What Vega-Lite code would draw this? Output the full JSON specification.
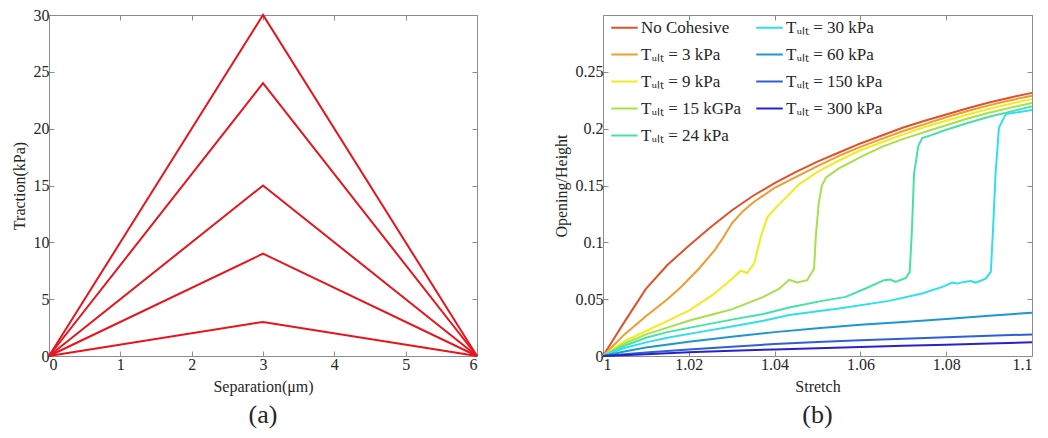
{
  "$schema": "https://vega.github.io/schema/vega-lite/v6.json",
  "background": "white",
  "padding": {"left": 10, "top": 6, "right": 5, "bottom": 0},
  "spacing": 70,
  "config": {
    "font": "Liberation Serif",
    "view": {"stroke": "#8c8c8c", "strokeWidth": 1},
    "axis": {
      "domain": false,
      "grid": false,
      "tickColor": "#8c8c8c",
      "tickSize": -5,
      "labelFont": "Liberation Serif",
      "labelFontSize": 16,
      "labelColor": "#262626",
      "labelPadding": 5,
      "titleFont": "Liberation Serif",
      "titleFontSize": 16,
      "titleFontWeight": "normal",
      "titleColor": "#262626",
      "titlePadding": 6
    },
    "legend": {"labelFont": "Liberation Serif"},
    "title": {"font": "Liberation Serif", "fontSize": 26, "fontWeight": "normal", "color": "#262626"}
  },
  "hconcat": [
    {
      "width": 428,
      "height": 341,
      "title": {"text": "(a)", "orient": "bottom", "anchor": "middle", "offset": 8},
      "data": {
        "values": [
          {"separation": 0, "traction": 0, "peak": 3},
          {"separation": 3, "traction": 3, "peak": 3},
          {"separation": 6, "traction": 0, "peak": 3},
          {"separation": 0, "traction": 0, "peak": 9},
          {"separation": 3, "traction": 9, "peak": 9},
          {"separation": 6, "traction": 0, "peak": 9},
          {"separation": 0, "traction": 0, "peak": 15},
          {"separation": 3, "traction": 15, "peak": 15},
          {"separation": 6, "traction": 0, "peak": 15},
          {"separation": 0, "traction": 0, "peak": 24},
          {"separation": 3, "traction": 24, "peak": 24},
          {"separation": 6, "traction": 0, "peak": 24},
          {"separation": 0, "traction": 0, "peak": 30},
          {"separation": 3, "traction": 30, "peak": 30},
          {"separation": 6, "traction": 0, "peak": 30}
        ]
      },
      "layer": [
        {
          "mark": {"type": "line", "color": "#e8141c", "strokeWidth": 2},
          "encoding": {
            "x": {"field": "separation", "type": "quantitative", "scale": {"domain": [0, 6], "nice": false},
                  "axis": {"title": "Separation(μm)", "values": [0, 1, 2, 3, 4, 5, 6], "labelFont": "Liberation Serif"}},
            "y": {"field": "traction", "type": "quantitative", "scale": {"domain": [0, 30], "nice": false},
                  "axis": {"title": "Traction(kPa)", "values": [0, 5, 10, 15, 20, 25, 30], "labelFont": "Liberation Serif"}},
            "detail": {"field": "peak", "type": "nominal"}
          }
        },
        {
          "mark": {"type": "line", "opacity": 0},
          "encoding": {
            "x": {"field": "separation", "type": "quantitative",
                  "axis": {"orient": "top", "title": null, "labels": false, "values": [0, 1, 2, 3, 4, 5, 6]}},
            "y": {"field": "traction", "type": "quantitative",
                  "axis": {"orient": "right", "title": null, "labels": false, "values": [0, 5, 10, 15, 20, 25, 30]}},
            "detail": {"field": "peak", "type": "nominal"}
          }
        }
      ],
      "resolve": {"axis": {"x": "independent", "y": "independent"}}
    },
    {
      "width": 429,
      "height": 341,
      "title": {"text": "(b)", "orient": "bottom", "anchor": "middle", "offset": 8},
      "data": {
        "values": [
          {"series": "No Cohesive", "stretch": 1.0, "opening": 0.0},
          {"series": "No Cohesive", "stretch": 1.005, "opening": 0.03},
          {"series": "No Cohesive", "stretch": 1.01, "opening": 0.059},
          {"series": "No Cohesive", "stretch": 1.015, "opening": 0.08},
          {"series": "No Cohesive", "stretch": 1.02, "opening": 0.097},
          {"series": "No Cohesive", "stretch": 1.025, "opening": 0.113},
          {"series": "No Cohesive", "stretch": 1.03, "opening": 0.128},
          {"series": "No Cohesive", "stretch": 1.035, "opening": 0.141},
          {"series": "No Cohesive", "stretch": 1.04, "opening": 0.152},
          {"series": "No Cohesive", "stretch": 1.045, "opening": 0.162},
          {"series": "No Cohesive", "stretch": 1.05, "opening": 0.171},
          {"series": "No Cohesive", "stretch": 1.055, "opening": 0.179},
          {"series": "No Cohesive", "stretch": 1.06, "opening": 0.187},
          {"series": "No Cohesive", "stretch": 1.065, "opening": 0.194},
          {"series": "No Cohesive", "stretch": 1.07, "opening": 0.201},
          {"series": "No Cohesive", "stretch": 1.075, "opening": 0.207},
          {"series": "No Cohesive", "stretch": 1.08, "opening": 0.2125},
          {"series": "No Cohesive", "stretch": 1.085, "opening": 0.218},
          {"series": "No Cohesive", "stretch": 1.09, "opening": 0.223},
          {"series": "No Cohesive", "stretch": 1.095, "opening": 0.2275},
          {"series": "No Cohesive", "stretch": 1.1, "opening": 0.2315},

          {"series": "Tᵤₗₜ = 3 kPa", "stretch": 1.0, "opening": 0.0},
          {"series": "Tᵤₗₜ = 3 kPa", "stretch": 1.005, "opening": 0.019},
          {"series": "Tᵤₗₜ = 3 kPa", "stretch": 1.01, "opening": 0.035},
          {"series": "Tᵤₗₜ = 3 kPa", "stretch": 1.015, "opening": 0.05},
          {"series": "Tᵤₗₜ = 3 kPa", "stretch": 1.018, "opening": 0.06},
          {"series": "Tᵤₗₜ = 3 kPa", "stretch": 1.0224, "opening": 0.077},
          {"series": "Tᵤₗₜ = 3 kPa", "stretch": 1.026, "opening": 0.093},
          {"series": "Tᵤₗₜ = 3 kPa", "stretch": 1.028, "opening": 0.104},
          {"series": "Tᵤₗₜ = 3 kPa", "stretch": 1.0301, "opening": 0.117},
          {"series": "Tᵤₗₜ = 3 kPa", "stretch": 1.0325, "opening": 0.127},
          {"series": "Tᵤₗₜ = 3 kPa", "stretch": 1.035, "opening": 0.135},
          {"series": "Tᵤₗₜ = 3 kPa", "stretch": 1.04, "opening": 0.148},
          {"series": "Tᵤₗₜ = 3 kPa", "stretch": 1.0457, "opening": 0.159},
          {"series": "Tᵤₗₜ = 3 kPa", "stretch": 1.05, "opening": 0.167},
          {"series": "Tᵤₗₜ = 3 kPa", "stretch": 1.055, "opening": 0.176},
          {"series": "Tᵤₗₜ = 3 kPa", "stretch": 1.06, "opening": 0.184},
          {"series": "Tᵤₗₜ = 3 kPa", "stretch": 1.065, "opening": 0.191},
          {"series": "Tᵤₗₜ = 3 kPa", "stretch": 1.07, "opening": 0.198},
          {"series": "Tᵤₗₜ = 3 kPa", "stretch": 1.075, "opening": 0.204},
          {"series": "Tᵤₗₜ = 3 kPa", "stretch": 1.08, "opening": 0.21},
          {"series": "Tᵤₗₜ = 3 kPa", "stretch": 1.085, "opening": 0.2155},
          {"series": "Tᵤₗₜ = 3 kPa", "stretch": 1.09, "opening": 0.2205},
          {"series": "Tᵤₗₜ = 3 kPa", "stretch": 1.095, "opening": 0.225},
          {"series": "Tᵤₗₜ = 3 kPa", "stretch": 1.1, "opening": 0.229},

          {"series": "Tᵤₗₜ = 9 kPa", "stretch": 1.0, "opening": 0.0},
          {"series": "Tᵤₗₜ = 9 kPa", "stretch": 1.005, "opening": 0.013},
          {"series": "Tᵤₗₜ = 9 kPa", "stretch": 1.01, "opening": 0.022},
          {"series": "Tᵤₗₜ = 9 kPa", "stretch": 1.0146, "opening": 0.03},
          {"series": "Tᵤₗₜ = 9 kPa", "stretch": 1.02, "opening": 0.04},
          {"series": "Tᵤₗₜ = 9 kPa", "stretch": 1.0255, "opening": 0.0535},
          {"series": "Tᵤₗₜ = 9 kPa", "stretch": 1.0301, "opening": 0.068},
          {"series": "Tᵤₗₜ = 9 kPa", "stretch": 1.0321, "opening": 0.075},
          {"series": "Tᵤₗₜ = 9 kPa", "stretch": 1.0336, "opening": 0.073},
          {"series": "Tᵤₗₜ = 9 kPa", "stretch": 1.0352, "opening": 0.081},
          {"series": "Tᵤₗₜ = 9 kPa", "stretch": 1.0368, "opening": 0.105},
          {"series": "Tᵤₗₜ = 9 kPa", "stretch": 1.0383, "opening": 0.122},
          {"series": "Tᵤₗₜ = 9 kPa", "stretch": 1.0403, "opening": 0.1305},
          {"series": "Tᵤₗₜ = 9 kPa", "stretch": 1.0457, "opening": 0.151},
          {"series": "Tᵤₗₜ = 9 kPa", "stretch": 1.05, "opening": 0.162},
          {"series": "Tᵤₗₜ = 9 kPa", "stretch": 1.055, "opening": 0.172},
          {"series": "Tᵤₗₜ = 9 kPa", "stretch": 1.06, "opening": 0.181},
          {"series": "Tᵤₗₜ = 9 kPa", "stretch": 1.065, "opening": 0.188},
          {"series": "Tᵤₗₜ = 9 kPa", "stretch": 1.07, "opening": 0.195},
          {"series": "Tᵤₗₜ = 9 kPa", "stretch": 1.075, "opening": 0.2015},
          {"series": "Tᵤₗₜ = 9 kPa", "stretch": 1.08, "opening": 0.207},
          {"series": "Tᵤₗₜ = 9 kPa", "stretch": 1.085, "opening": 0.2125},
          {"series": "Tᵤₗₜ = 9 kPa", "stretch": 1.09, "opening": 0.2175},
          {"series": "Tᵤₗₜ = 9 kPa", "stretch": 1.095, "opening": 0.222},
          {"series": "Tᵤₗₜ = 9 kPa", "stretch": 1.1, "opening": 0.226},

          {"series": "Tᵤₗₜ = 15 kGPa", "stretch": 1.0, "opening": 0.0},
          {"series": "Tᵤₗₜ = 15 kGPa", "stretch": 1.005, "opening": 0.011},
          {"series": "Tᵤₗₜ = 15 kGPa", "stretch": 1.01, "opening": 0.019},
          {"series": "Tᵤₗₜ = 15 kGPa", "stretch": 1.015, "opening": 0.025},
          {"series": "Tᵤₗₜ = 15 kGPa", "stretch": 1.02, "opening": 0.031},
          {"series": "Tᵤₗₜ = 15 kGPa", "stretch": 1.025, "opening": 0.036},
          {"series": "Tᵤₗₜ = 15 kGPa", "stretch": 1.03, "opening": 0.041},
          {"series": "Tᵤₗₜ = 15 kGPa", "stretch": 1.0374, "opening": 0.052},
          {"series": "Tᵤₗₜ = 15 kGPa", "stretch": 1.041, "opening": 0.059},
          {"series": "Tᵤₗₜ = 15 kGPa", "stretch": 1.0434, "opening": 0.067},
          {"series": "Tᵤₗₜ = 15 kGPa", "stretch": 1.0453, "opening": 0.0646},
          {"series": "Tᵤₗₜ = 15 kGPa", "stretch": 1.0476, "opening": 0.0667},
          {"series": "Tᵤₗₜ = 15 kGPa", "stretch": 1.0492, "opening": 0.077},
          {"series": "Tᵤₗₜ = 15 kGPa", "stretch": 1.0496, "opening": 0.105},
          {"series": "Tᵤₗₜ = 15 kGPa", "stretch": 1.0503, "opening": 0.135},
          {"series": "Tᵤₗₜ = 15 kGPa", "stretch": 1.051, "opening": 0.15},
          {"series": "Tᵤₗₜ = 15 kGPa", "stretch": 1.052, "opening": 0.157},
          {"series": "Tᵤₗₜ = 15 kGPa", "stretch": 1.055, "opening": 0.165},
          {"series": "Tᵤₗₜ = 15 kGPa", "stretch": 1.06, "opening": 0.175},
          {"series": "Tᵤₗₜ = 15 kGPa", "stretch": 1.065, "opening": 0.184},
          {"series": "Tᵤₗₜ = 15 kGPa", "stretch": 1.07, "opening": 0.191},
          {"series": "Tᵤₗₜ = 15 kGPa", "stretch": 1.075, "opening": 0.197},
          {"series": "Tᵤₗₜ = 15 kGPa", "stretch": 1.08, "opening": 0.203},
          {"series": "Tᵤₗₜ = 15 kGPa", "stretch": 1.085, "opening": 0.209},
          {"series": "Tᵤₗₜ = 15 kGPa", "stretch": 1.09, "opening": 0.214},
          {"series": "Tᵤₗₜ = 15 kGPa", "stretch": 1.095, "opening": 0.2185},
          {"series": "Tᵤₗₜ = 15 kGPa", "stretch": 1.1, "opening": 0.2225},

          {"series": "Tᵤₗₜ = 24 kPa", "stretch": 1.0, "opening": 0.0},
          {"series": "Tᵤₗₜ = 24 kPa", "stretch": 1.005, "opening": 0.009},
          {"series": "Tᵤₗₜ = 24 kPa", "stretch": 1.01, "opening": 0.016},
          {"series": "Tᵤₗₜ = 24 kPa", "stretch": 1.015, "opening": 0.021},
          {"series": "Tᵤₗₜ = 24 kPa", "stretch": 1.0224, "opening": 0.0265},
          {"series": "Tᵤₗₜ = 24 kPa", "stretch": 1.03, "opening": 0.032},
          {"series": "Tᵤₗₜ = 24 kPa", "stretch": 1.0374, "opening": 0.037},
          {"series": "Tᵤₗₜ = 24 kPa", "stretch": 1.0434, "opening": 0.0427},
          {"series": "Tᵤₗₜ = 24 kPa", "stretch": 1.0511, "opening": 0.0485},
          {"series": "Tᵤₗₜ = 24 kPa", "stretch": 1.0566, "opening": 0.052},
          {"series": "Tᵤₗₜ = 24 kPa", "stretch": 1.0612, "opening": 0.0594},
          {"series": "Tᵤₗₜ = 24 kPa", "stretch": 1.0655, "opening": 0.0667},
          {"series": "Tᵤₗₜ = 24 kPa", "stretch": 1.067, "opening": 0.0673},
          {"series": "Tᵤₗₜ = 24 kPa", "stretch": 1.0682, "opening": 0.0652},
          {"series": "Tᵤₗₜ = 24 kPa", "stretch": 1.0706, "opening": 0.0687},
          {"series": "Tᵤₗₜ = 24 kPa", "stretch": 1.0715, "opening": 0.074},
          {"series": "Tᵤₗₜ = 24 kPa", "stretch": 1.072, "opening": 0.11},
          {"series": "Tᵤₗₜ = 24 kPa", "stretch": 1.0725, "opening": 0.16},
          {"series": "Tᵤₗₜ = 24 kPa", "stretch": 1.0735, "opening": 0.185},
          {"series": "Tᵤₗₜ = 24 kPa", "stretch": 1.0744, "opening": 0.1918},
          {"series": "Tᵤₗₜ = 24 kPa", "stretch": 1.0762, "opening": 0.1939},
          {"series": "Tᵤₗₜ = 24 kPa", "stretch": 1.08, "opening": 0.199},
          {"series": "Tᵤₗₜ = 24 kPa", "stretch": 1.085, "opening": 0.205},
          {"series": "Tᵤₗₜ = 24 kPa", "stretch": 1.09, "opening": 0.2105},
          {"series": "Tᵤₗₜ = 24 kPa", "stretch": 1.095, "opening": 0.215},
          {"series": "Tᵤₗₜ = 24 kPa", "stretch": 1.1, "opening": 0.2196},

          {"series": "Tᵤₗₜ = 30 kPa", "stretch": 1.0, "opening": 0.0},
          {"series": "Tᵤₗₜ = 30 kPa", "stretch": 1.005, "opening": 0.007},
          {"series": "Tᵤₗₜ = 30 kPa", "stretch": 1.01, "opening": 0.012},
          {"series": "Tᵤₗₜ = 30 kPa", "stretch": 1.015, "opening": 0.016},
          {"series": "Tᵤₗₜ = 30 kPa", "stretch": 1.0224, "opening": 0.021},
          {"series": "Tᵤₗₜ = 30 kPa", "stretch": 1.03, "opening": 0.026},
          {"series": "Tᵤₗₜ = 30 kPa", "stretch": 1.0374, "opening": 0.031},
          {"series": "Tᵤₗₜ = 30 kPa", "stretch": 1.0434, "opening": 0.036},
          {"series": "Tᵤₗₜ = 30 kPa", "stretch": 1.055, "opening": 0.0418},
          {"series": "Tᵤₗₜ = 30 kPa", "stretch": 1.0667, "opening": 0.0485},
          {"series": "Tᵤₗₜ = 30 kPa", "stretch": 1.0744, "opening": 0.055},
          {"series": "Tᵤₗₜ = 30 kPa", "stretch": 1.0791, "opening": 0.0608},
          {"series": "Tᵤₗₜ = 30 kPa", "stretch": 1.0814, "opening": 0.0646},
          {"series": "Tᵤₗₜ = 30 kPa", "stretch": 1.0826, "opening": 0.0637},
          {"series": "Tᵤₗₜ = 30 kPa", "stretch": 1.0841, "opening": 0.0652},
          {"series": "Tᵤₗₜ = 30 kPa", "stretch": 1.0857, "opening": 0.066},
          {"series": "Tᵤₗₜ = 30 kPa", "stretch": 1.0869, "opening": 0.0646},
          {"series": "Tᵤₗₜ = 30 kPa", "stretch": 1.0892, "opening": 0.0681},
          {"series": "Tᵤₗₜ = 30 kPa", "stretch": 1.0904, "opening": 0.074},
          {"series": "Tᵤₗₜ = 30 kPa", "stretch": 1.0909, "opening": 0.11},
          {"series": "Tᵤₗₜ = 30 kPa", "stretch": 1.0915, "opening": 0.16},
          {"series": "Tᵤₗₜ = 30 kPa", "stretch": 1.0923, "opening": 0.201},
          {"series": "Tᵤₗₜ = 30 kPa", "stretch": 1.0939, "opening": 0.2128},
          {"series": "Tᵤₗₜ = 30 kPa", "stretch": 1.0963, "opening": 0.2142},
          {"series": "Tᵤₗₜ = 30 kPa", "stretch": 1.1, "opening": 0.2164},

          {"series": "Tᵤₗₜ = 60 kPa", "stretch": 1.0, "opening": 0.0},
          {"series": "Tᵤₗₜ = 60 kPa", "stretch": 1.005, "opening": 0.004},
          {"series": "Tᵤₗₜ = 60 kPa", "stretch": 1.01, "opening": 0.0075},
          {"series": "Tᵤₗₜ = 60 kPa", "stretch": 1.02, "opening": 0.0125},
          {"series": "Tᵤₗₜ = 60 kPa", "stretch": 1.03, "opening": 0.017},
          {"series": "Tᵤₗₜ = 60 kPa", "stretch": 1.04, "opening": 0.021},
          {"series": "Tᵤₗₜ = 60 kPa", "stretch": 1.05, "opening": 0.0245},
          {"series": "Tᵤₗₜ = 60 kPa", "stretch": 1.06, "opening": 0.0275},
          {"series": "Tᵤₗₜ = 60 kPa", "stretch": 1.07, "opening": 0.03},
          {"series": "Tᵤₗₜ = 60 kPa", "stretch": 1.08, "opening": 0.0325},
          {"series": "Tᵤₗₜ = 60 kPa", "stretch": 1.09, "opening": 0.0355},
          {"series": "Tᵤₗₜ = 60 kPa", "stretch": 1.1, "opening": 0.038},

          {"series": "Tᵤₗₜ = 150 kPa", "stretch": 1.0, "opening": 0.0},
          {"series": "Tᵤₗₜ = 150 kPa", "stretch": 1.01, "opening": 0.003},
          {"series": "Tᵤₗₜ = 150 kPa", "stretch": 1.02, "opening": 0.0058},
          {"series": "Tᵤₗₜ = 150 kPa", "stretch": 1.03, "opening": 0.0082},
          {"series": "Tᵤₗₜ = 150 kPa", "stretch": 1.04, "opening": 0.0105},
          {"series": "Tᵤₗₜ = 150 kPa", "stretch": 1.05, "opening": 0.0123},
          {"series": "Tᵤₗₜ = 150 kPa", "stretch": 1.06, "opening": 0.0138},
          {"series": "Tᵤₗₜ = 150 kPa", "stretch": 1.07, "opening": 0.0152},
          {"series": "Tᵤₗₜ = 150 kPa", "stretch": 1.08, "opening": 0.0165},
          {"series": "Tᵤₗₜ = 150 kPa", "stretch": 1.09, "opening": 0.0178},
          {"series": "Tᵤₗₜ = 150 kPa", "stretch": 1.1, "opening": 0.019},

          {"series": "Tᵤₗₜ = 300 kPa", "stretch": 1.0, "opening": 0.0},
          {"series": "Tᵤₗₜ = 300 kPa", "stretch": 1.01, "opening": 0.0016},
          {"series": "Tᵤₗₜ = 300 kPa", "stretch": 1.02, "opening": 0.0032},
          {"series": "Tᵤₗₜ = 300 kPa", "stretch": 1.03, "opening": 0.0046},
          {"series": "Tᵤₗₜ = 300 kPa", "stretch": 1.04, "opening": 0.0058},
          {"series": "Tᵤₗₜ = 300 kPa", "stretch": 1.05, "opening": 0.0069},
          {"series": "Tᵤₗₜ = 300 kPa", "stretch": 1.06, "opening": 0.008},
          {"series": "Tᵤₗₜ = 300 kPa", "stretch": 1.07, "opening": 0.009},
          {"series": "Tᵤₗₜ = 300 kPa", "stretch": 1.08, "opening": 0.01},
          {"series": "Tᵤₗₜ = 300 kPa", "stretch": 1.09, "opening": 0.011},
          {"series": "Tᵤₗₜ = 300 kPa", "stretch": 1.1, "opening": 0.012}
        ]
      },
      "layer": [
        {
          "mark": {"type": "line", "strokeWidth": 2},
          "encoding": {
            "x": {"field": "stretch", "type": "quantitative", "scale": {"domain": [1, 1.1], "nice": false, "zero": false},
                  "axis": {"title": "Stretch", "values": [1, 1.02, 1.04, 1.06, 1.08, 1.1], "format": "~g", "labelFont": "Liberation Serif"}},
            "y": {"field": "opening", "type": "quantitative", "scale": {"domain": [0, 0.3], "nice": false},
                  "axis": {"title": "Opening/Height", "values": [0, 0.05, 0.1, 0.15, 0.2, 0.25], "format": "~g", "labelFont": "Liberation Serif"}},
            "color": {
              "field": "series", "type": "nominal",
              "scale": {
                "domain": ["No Cohesive", "Tᵤₗₜ = 3 kPa", "Tᵤₗₜ = 9 kPa", "Tᵤₗₜ = 15 kGPa", "Tᵤₗₜ = 24 kPa", "Tᵤₗₜ = 30 kPa", "Tᵤₗₜ = 60 kPa", "Tᵤₗₜ = 150 kPa", "Tᵤₗₜ = 300 kPa"],
                "range": ["#e2502a", "#f39a2e", "#f2ec1e", "#a6e04a", "#45e2a8", "#2fe0ec", "#1e96d4", "#2c5fd8", "#2a22c8"]
              },
              "legend": {
                "title": null,
                "orient": "none",
                "legendX": 561,
                "legendY": -2,
                "padding": 0,
                "columns": 2,
                "direction": "vertical",
                "symbolType": "stroke",
                "symbolStrokeWidth": 2,
                "symbolSize": 700,
                "labelFont": "Liberation Serif",
                "labelFontSize": 17,
                "labelColor": "#262626",
                "labelOffset": 2,
                "rowPadding": 4,
                "columnPadding": 10,
                "labelLimit": 200
              }
            },
            "detail": {"field": "series", "type": "nominal"}
          }
        },
        {
          "mark": {"type": "line", "opacity": 0},
          "encoding": {
            "x": {"field": "stretch", "type": "quantitative",
                  "axis": {"orient": "top", "title": null, "labels": false, "values": [1, 1.02, 1.04, 1.06, 1.08, 1.1]}},
            "y": {"field": "opening", "type": "quantitative",
                  "axis": {"orient": "right", "title": null, "labels": false, "values": [0, 0.05, 0.1, 0.15, 0.2, 0.25, 0.3]}},
            "detail": {"field": "series", "type": "nominal"}
          }
        }
      ],
      "resolve": {"axis": {"x": "independent", "y": "independent"}}
    }
  ]
}
